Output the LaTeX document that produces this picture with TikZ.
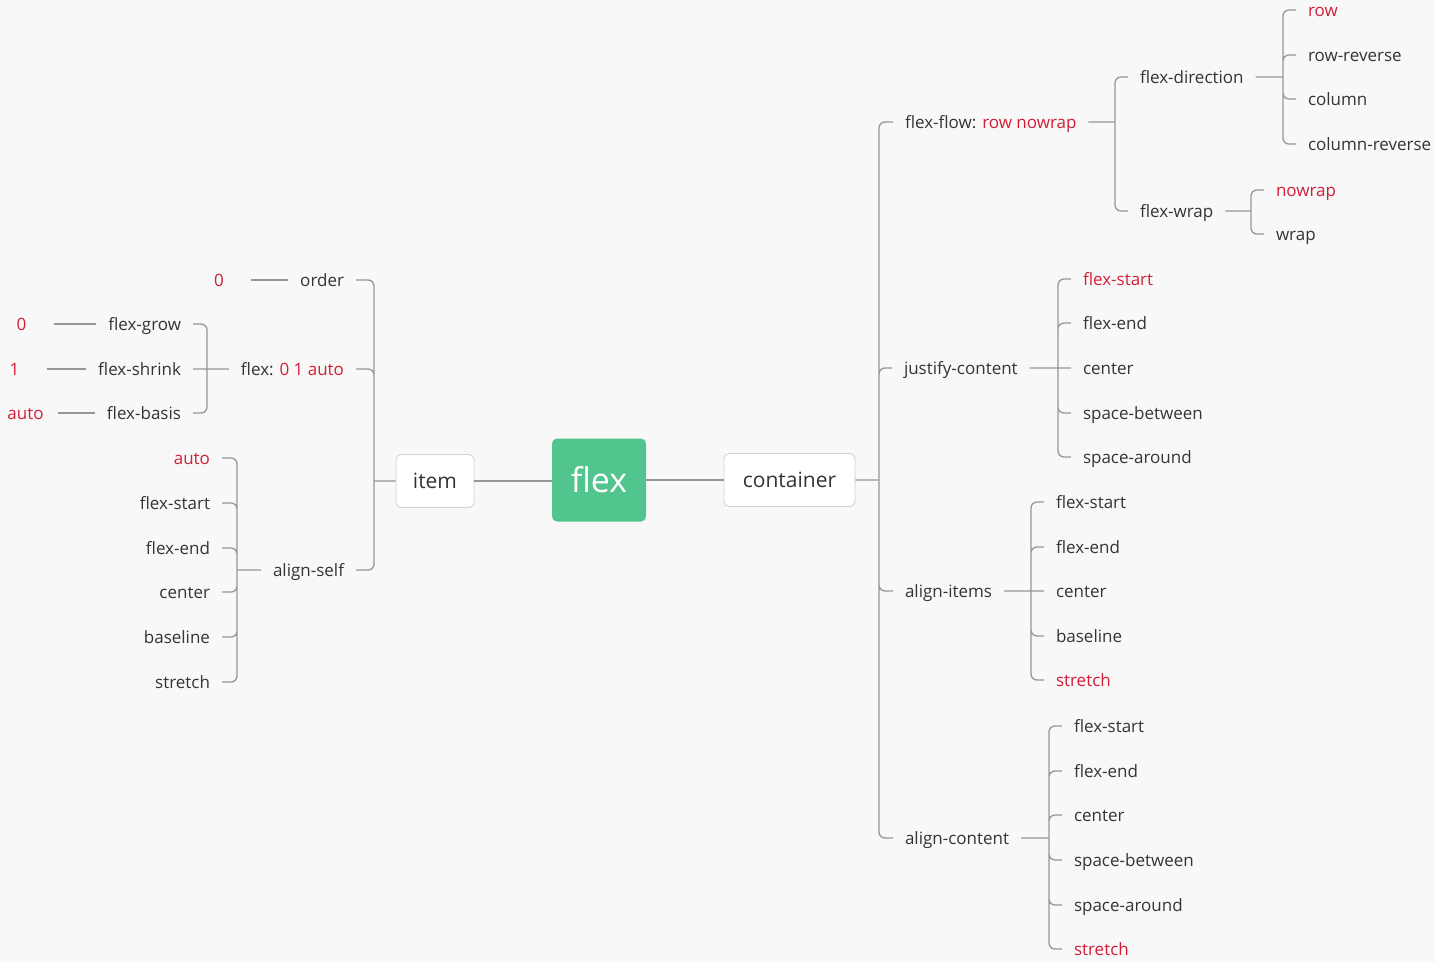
\documentclass[tikz,border=0pt]{standalone}
\usepackage{fontspec}
\setmainfont{Open Sans}
\definecolor{ink}{RGB}{52,52,52}
\definecolor{hl}{RGB}{210,30,56}
\definecolor{wire}{RGB}{150,150,150}
\definecolor{boxline}{RGB}{210,210,210}
\definecolor{mint}{RGB}{82,196,141}
\definecolor{paper}{RGB}{248,248,248}
\tikzset{
  topic/.style={font=\fontsize{17}{19}\selectfont, text=ink, inner sep=0pt, outer xsep=12pt, text height=12pt, text depth=0pt},
  hot/.style={topic, text=hl},
  val/.style={hot, minimum width=40pt},
  box/.style={draw=boxline, fill=white, rounded corners=5pt, line width=0.9pt, font=\fontsize{21}{24}\selectfont, text=ink, minimum height=53pt},
  link/.style={draw=wire, line width=1.3pt, rounded corners=6pt},
}
\begin{document}
\begin{tikzpicture}[x=1pt,y=-1pt]
\useasboundingbox (0,0) rectangle (1435,962);
\fill[paper] (0,0) rectangle (1435,962);

\node[fill=mint, rounded corners=5pt, minimum width=94pt, minimum height=83pt, text=white, font=\fontsize{34}{40}\selectfont] (flex) at (599,480) {flex};
\node[box, minimum width=78pt] (item) at (435,481) {item};
\node[box, minimum width=131pt] (container) at (789.5,480) {container};

\coordinate (bMain) at (879,0);
\coordinate (bFlow) at (1115,0);
\coordinate (bDir) at (1283,0);
\coordinate (bWrap) at (1251,0);
\coordinate (bJc) at (1058,0);
\coordinate (bAi) at (1031,0);
\coordinate (bAc) at (1049,0);
\coordinate (bItem) at (374,0);
\coordinate (bFlex) at (207,0);
\coordinate (bSelf) at (237,0);

\node[topic, anchor=west] (flow) at (893,122) {flex-flow: \textcolor{hl}{row nowrap}};
\node[topic, anchor=west] (justify) at (892,368) {justify-content};
\node[topic, anchor=west] (aitems) at (893,591) {align-items};
\node[topic, anchor=west] (acontent) at (893,838) {align-content};

\node[topic, anchor=west] (dir) at (1128,77) {flex-direction};
\node[topic, anchor=west] (wrap) at (1128,211) {flex-wrap};
\node[hot, anchor=west] (dRow) at (1296,10) {row};
\node[topic, anchor=west] (dRowRev) at (1296,55) {row-reverse};
\node[topic, anchor=west] (dCol) at (1296,99) {column};
\node[topic, anchor=west] (dColRev) at (1296,144) {column-reverse};
\node[hot, anchor=west] (wNo) at (1264,190) {nowrap};
\node[topic, anchor=west] (wYes) at (1264,234) {wrap};

\node[hot, anchor=west] (jcStart) at (1071,279) {flex-start};
\node[topic, anchor=west] (jcEnd) at (1071,323) {flex-end};
\node[topic, anchor=west] (jcCenter) at (1071,368) {center};
\node[topic, anchor=west] (jcBetween) at (1071,413) {space-between};
\node[topic, anchor=west] (jcAround) at (1071,457) {space-around};

\node[topic, anchor=west] (aiStart) at (1044,502) {flex-start};
\node[topic, anchor=west] (aiEnd) at (1044,547) {flex-end};
\node[topic, anchor=west] (aiCenter) at (1044,591) {center};
\node[topic, anchor=west] (aiBase) at (1044,636) {baseline};
\node[hot, anchor=west] (aiStretch) at (1044,680) {stretch};

\node[topic, anchor=west] (acStart) at (1062,726) {flex-start};
\node[topic, anchor=west] (acEnd) at (1062,771) {flex-end};
\node[topic, anchor=west] (acCenter) at (1062,815) {center};
\node[topic, anchor=west] (acBetween) at (1062,860) {space-between};
\node[topic, anchor=west] (acAround) at (1062,905) {space-around};
\node[hot, anchor=west] (acStretch) at (1062,949) {stretch};

\node[topic, anchor=east] (order) at (356,280) {order};
\node[topic, anchor=east] (flexs) at (356,369) {flex: \textcolor{hl}{0 1 auto}};
\node[topic, anchor=east] (aself) at (356,570) {align-self};
\node[val] (orderVal) at (219,280) {0};

\node[topic, anchor=east] (grow) at (193,324) {flex-grow};
\node[topic, anchor=east] (shrink) at (193,369) {flex-shrink};
\node[topic, anchor=east] (basis) at (193,413) {flex-basis};
\node[val] (growVal) at (21.5,324) {0};
\node[val] (shrinkVal) at (14.5,369) {1};
\node[val] (basisVal) at (25.5,413) {auto};

\node[hot, anchor=east] (sAuto) at (222,458) {auto};
\node[topic, anchor=east] (sStart) at (222,503) {flex-start};
\node[topic, anchor=east] (sEnd) at (222,548) {flex-end};
\node[topic, anchor=east] (sCenter) at (222,592) {center};
\node[topic, anchor=east] (sBase) at (222,637) {baseline};
\node[topic, anchor=east] (sStretch) at (222,682) {stretch};

\draw[link] (item.east) -- (item.east -| flex.west);
\draw[link] (flex.east) -- (container.west);

\draw[link] (container.east) -- (bMain |- container.east) coordinate (jMain)
  (jMain) |- (flow.west) (jMain) |- (justify.west)
  (jMain) |- (aitems.west) (jMain) |- (acontent.west);

\draw[link] (flow.east) -- (bFlow |- flow.east) coordinate (jFlow)
  (jFlow) |- (dir.west) (jFlow) |- (wrap.west);

\draw[link] (dir.east) -- (bDir |- dir.east) coordinate (jDir)
  (jDir) |- (dRow.west) (jDir) |- (dRowRev.west)
  (jDir) |- (dCol.west) (jDir) |- (dColRev.west);

\draw[link] (wrap.east) -- (bWrap |- wrap.east) coordinate (jWrap)
  (jWrap) |- (wNo.west) (jWrap) |- (wYes.west);

\draw[link] (justify.east) -- (bJc |- justify.east) coordinate (jJc)
  (jJc) |- (jcStart.west) (jJc) |- (jcEnd.west) (jJc) -- (jcCenter.west)
  (jJc) |- (jcBetween.west) (jJc) |- (jcAround.west);

\draw[link] (aitems.east) -- (bAi |- aitems.east) coordinate (jAi)
  (jAi) |- (aiStart.west) (jAi) |- (aiEnd.west) (jAi) -- (aiCenter.west)
  (jAi) |- (aiBase.west) (jAi) |- (aiStretch.west);

\draw[link] (acontent.east) -- (bAc |- acontent.east) coordinate (jAc)
  (jAc) |- (acStart.west) (jAc) |- (acEnd.west) (jAc) |- (acCenter.west)
  (jAc) |- (acBetween.west) (jAc) |- (acAround.west) (jAc) |- (acStretch.west);

\draw[link] (item.west) -- (bItem |- item.west) coordinate (jItem)
  (jItem) |- (order.east) (jItem) |- (flexs.east) (jItem) |- (aself.east);

\draw[link] (order.west) -- (orderVal.east);

\draw[link] (flexs.west) -- (bFlex |- flexs.west) coordinate (jFlex)
  (jFlex) |- (grow.east) (jFlex) -- (shrink.east) (jFlex) |- (basis.east);

\draw[link] (grow.west) -- (growVal.east);
\draw[link] (shrink.west) -- (shrinkVal.east);
\draw[link] (basis.west) -- (basisVal.east);

\draw[link] (aself.west) -- (bSelf |- aself.west) coordinate (jSelf)
  (jSelf) |- (sAuto.east) (jSelf) |- (sStart.east) (jSelf) |- (sEnd.east)
  (jSelf) |- (sCenter.east) (jSelf) |- (sBase.east) (jSelf) |- (sStretch.east);
\end{tikzpicture}
\end{document}
